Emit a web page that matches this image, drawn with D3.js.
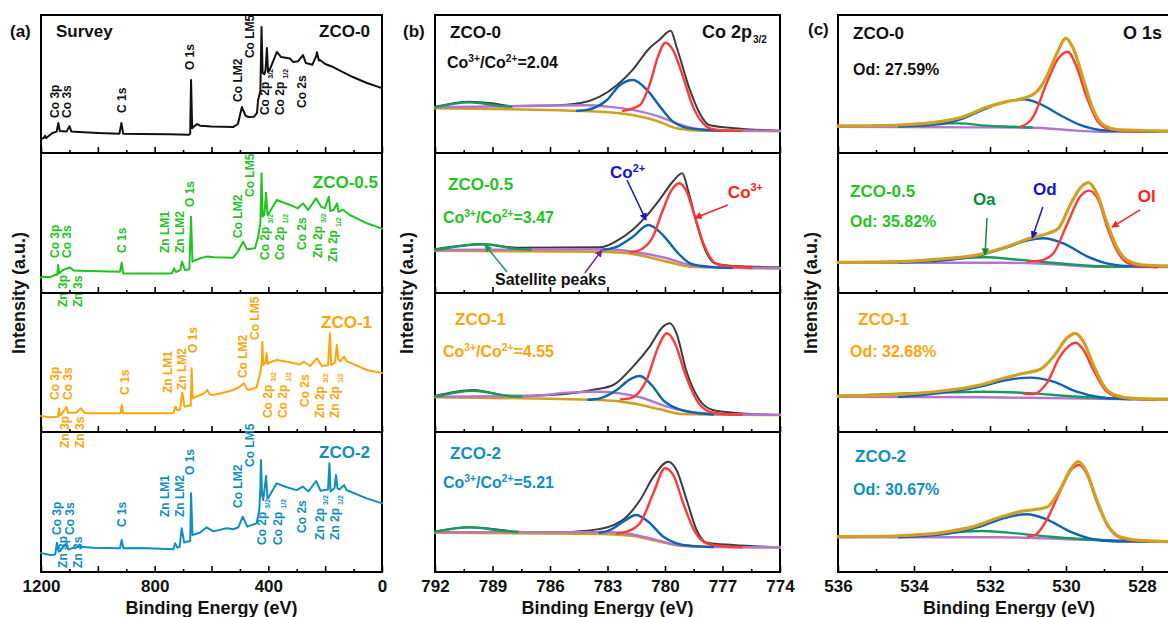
<!DOCTYPE html>
<html>
<head>
<meta charset="utf-8">
<script src="https://cdn.jsdelivr.net/npm/d3@7"></script>
<style>
  body { margin: 0; background: #fff; }
  svg { display: block; font-family: Arial, "Liberation Sans", sans-serif; font-weight: bold; }
</style>
</head>
<body>
<svg id="chart" width="1168" height="617"></svg>
<script>
// ---- sample names and colours ----
const sampleNames = ['ZCO-0', 'ZCO-0.5', 'ZCO-1', 'ZCO-2'];
const sampleColors = ['#111111', '#1fc41f', '#ffa50a', '#0e8fc2'];
const coRatios = ['2.04', '3.47', '4.55', '5.21'];
const odShares = ['27.59%', '35.82%', '32.68%', '30.67%'];

// ---- (a) survey spectra: [binding energy eV, intensity a.u.] ----
const survey0 = [[1200,10],[1190,10.9],[1186,12.5],[1182,10.8],[1160,14.5],[1145,15.5],[1139,21.7],[1134,16],[1110,15.5],[1100,19.5],[1093,15.5],[1050,15],[1000,14.5],[924,14],[917,21.7],[911,14],[850,13.8],[750,13.5],[680,13.2],[675,14],[672,52.9],[668,18],[660,19.5],[650,21],[640,19.8],[600,19.2],[524,18.8],[507,21],[493,33.3],[480,27],[470,26.1],[450,26.3],[440,29],[436,38.4],[428,45],[424,91.3],[420,58],[414,57],[410,60],[405,76],[401,58.7],[394,61],[380,68],[370,73.2],[355,69.5],[334,68.8],[324,68.5],[313,66],[295,66.5],[278,71],[268,65.2],[245,64],[232,70],[229,73],[222,67],[218,67.4],[200,64.5],[172,62.3],[113,56],[53,50.7],[0,47]];
const survey05 = [[1200,11],[1193,11.6],[1165,11.5],[1151,12.9],[1143,13],[1140,20],[1136,14],[1123,16.4],[1098,18.3],[1085,16],[1063,15.9],[922,15.2],[916,21.7],[911,14],[750,14],[738,14.2],[732,17.6],[725,15],[710,16.4],[704,22.4],[693,16.4],[678,17],[672,54.5],[667,22.4],[640,24.8],[616,26],[590,25.5],[524,25.2],[507,29.5],[489,36.6],[475,31.2],[447,31.9],[436,40.2],[428,50],[424,85.5],[420,54.5],[414,56],[408,71.6],[403,55.7],[395,58],[370,66.4],[345,64.5],[324,62.9],[296,60.5],[278,64],[260,59.3],[232,67.6],[215,61.7],[201,60.5],[187,68.8],[182,58.5],[170,59.5],[158,64],[153,58],[137,59.5],[113,55.7],[53,49.8],[0,46]];
const survey1 = [[1200,11.5],[1168,10.6],[1140,11],[1137,17],[1134,12],[1127,13],[1110,18.2],[1105,13.9],[1075,14],[1060,17],[1045,13.4],[920,13.4],[916,19.4],[911,13.4],[740,13.4],[734,14],[726,18.2],[720,15.8],[711,16],[703,28.3],[695,18.2],[690,18.5],[673,19],[670,45.8],[666,24.2],[640,26.6],[625,28],[616,30.2],[605,27],[595,26.6],[545,29],[524,30.2],[505,32],[486,35],[475,31],[470,30.2],[441,32.2],[429,42.2],[423,50],[421,65],[418,48.2],[410,50],[406,56.6],[402,49],[397,50],[370,51.8],[334,50.6],[289,48.5],[275,50.6],[253,47.5],[229,53],[212,47.5],[190,48],[183,71],[179,48.2],[165,50],[159,62.6],[154,52],[146,51],[134,54.2],[125,51],[53,44.6],[0,42.5]];
const survey2 = [[1200,13.5],[1194,13.3],[1168,12.1],[1150,12.5],[1144,20.9],[1138,14.5],[1133,15],[1110,20.5],[1104,16],[1092,16.9],[1063,18],[1016,17.4],[922,17],[916,22.9],[910,17],[852,17.2],[734,16.2],[728,20.5],[720,17.4],[712,18],[705,31.2],[696,21],[682,22],[675,22],[672,56.2],[667,26.4],[640,28.2],[617,31.9],[594,29],[547,31.2],[523,30.5],[505,32],[490,39.5],[474,32.4],[441,34.8],[432,44.3],[428,60],[426,80],[422,55],[418,51.4],[408,68.6],[403,52.5],[400,53],[371,63.3],[335,60.5],[300,58.5],[279,61],[259,57.5],[232,65],[216,58],[190,59],[185,77.6],[181,57.5],[167,60],[162,69.3],[157,60],[150,59],[133,62.1],[125,58.5],[119,58],[54,52.6],[0,49]];

// peak labels: [text, subscript, eV, intensity at the text start]
const survey0Labels = [['Co 3p','',1151,25.4],['Co 3s','',1108,25.4],['C 1s','',915,29],['O 1s','',676,60.1],['Co LM2','',507,37],['Co LM5','',465,68.8],['Co 2p','3/2',412,27.5],['Co 2p','1/2',359,27.5],['Co 2s','',282,32.6]];
const survey05Labels = [['Co 3p','',1151,25],['Co 3s','',1108,25],['Zn 3p','',1123,-10],['Zn 3s','',1070,-10],['C 1s','',915,28.6],['Zn LM1','',764,28.6],['Zn LM2','',711,28.6],['O 1s','',676,61.4],['Co LM2','',507,39.3],['Co LM5','',465,68.6],['Co 2p','3/2',412,23.6],['Co 2p','1/2',359,23.6],['Co 2s','',282,30.7],['Zn 2p','3/2',225,25],['Zn 2p','1/2',172,22.1]];
const survey1Labels = [['Co 3p','',1151,23],['Co 3s','',1105,23],['Zn 3p','',1116,-11.5],['Zn 3s','',1063,-11.5],['C 1s','',904,26.6],['Zn LM1','',753,28],['Zn LM2','',704,30.2],['O 1s','',665,56.8],['Co LM2','',489,38.8],['Co LM5','',447,66.2],['Co 2p','3/2',401,10],['Co 2p','1/2',348,10],['Co 2s','',271,18],['Zn 2p','3/2',218,10],['Zn 2p','1/2',165,10]];
const survey2Labels = [['Co 3p','',1144,26.4],['Co 3s','',1098,26.4],['Zn 3p','',1123,2.9],['Zn 3s','',1070,2.9],['C 1s','',915,32.1],['Zn LM1','',764,39.3],['Zn LM2','',711,39.3],['O 1s','',676,69.3],['Co LM2','',507,45.7],['Co LM5','',465,75],['Co 2p','3/2',422,19.3],['Co 2p','1/2',366,19.3],['Co 2s','',282,27.9],['Zn 2p','3/2',218,22.9],['Zn 2p','1/2',165,22.9]];

// ---- (b) Co 2p3/2: raw, Co3+, Co2+, satellite 1 (green), satellite 2 (purple), background ----
const co0Raw = [[792,33.3],[790.2,37.2],[789,36],[788.1,34.1],[786,34.4],[784.4,36.2],[783.4,40.8],[782.5,49.3],[781.7,60.1],[780.8,76.1],[780.3,81.9],[779.7,88.6],[779.4,77],[778.7,45.7],[778.2,29],[777.7,20.3],[776.5,18.1],[774,16.2]];
const co0Co3 = [[782.2,30.5],[781.31,34.8],[780.78,50.5],[780.37,69.8],[779.97,79.9],[779.58,74.6],[779.06,55.3],[778.54,33.6],[778.01,21.5],[777.65,17.9],[777,16.5],[776,16]];
const co0Co2 = [[784.6,30.5],[784.07,31.2],[783.03,38.4],[782.35,49.3],[781.67,52.9],[780.94,45.7],[780.26,33.6],[779.58,22.7],[779.06,19],[778.5,17.5],[777,16.1]];
const co0Sat1 = [[792,33.1],[790.2,36.7],[788.6,34.1],[788,33.5]];
const co0Sat2 = [[792,33.1],[786.9,34.1],[784.1,34.6],[783,33.6],[781.7,31.2],[780.3,26.3],[779.4,21.5],[778.2,17.2],[776.5,16.2],[774,15.9]];
const co0Bg = [[792,32.4],[783.4,29.9],[781.7,27.5],[780.3,22.7],[779.4,17.9],[778.2,16.2],[774,15.9]];

const co05Raw = [[792,31.2],[789.5,34.8],[787.7,32.4],[783.4,32.6],[782.5,37.4],[781.7,45],[781,54.5],[780.3,66.4],[779.6,79.5],[779.1,85.5],[778.8,73.6],[778.35,49.8],[777.9,30.7],[777.4,21.2],[776.45,19.3],[774,18.4]];
const co05Co3 = [[781.8,29],[781.31,30.7],[780.63,40.2],[780.11,59.3],[779.65,73.6],[779.26,78.4],[778.87,72.4],[778.44,54.5],[778,35.5],[777.48,22.4],[777.13,20],[776.5,19],[775.5,17.8]];
const co05Co2 = [[783.2,31],[782.52,33],[781.67,40.2],[780.87,48.6],[780.11,41.4],[779.39,29.5],[778.7,21.2],[778.18,19.5],[777.5,18.5],[776.5,17.8]];
const co05Sat1 = [[792,30.7],[789.5,34.8],[787.7,31.5],[787,31]];
const co05Sat2 = [[792,30.7],[783.4,31.2],[781.67,29.5],[779.9,24.8],[778.7,20],[777.3,18.4],[774,17.8]];
const co05Bg = [[792,30.2],[783.4,29.5],[781.67,27.9],[779.9,22.4],[778.7,18.8],[774,17.6]];

const co1Raw = [[792,25.9],[790,30.2],[788.1,26],[786,26.6],[783.6,30.7],[782.7,33.8],[781.67,47],[780.8,61.4],[780.1,75.8],[779.75,78.2],[779.4,71],[778.9,44.6],[778.2,23],[777.5,15.8],[776.45,13.9],[774,12.2]];
const co1Co3 = [[782.3,23.5],[781.83,24.2],[780.96,37.4],[780.35,61.4],[779.91,71],[779.48,63.8],[778.96,42.2],[778.35,23],[777.65,14.5],[777,13],[776,12.4]];
const co1Co2 = [[784,23.2],[783.39,24.2],[782.52,30.2],[781.83,37.9],[781.31,40.3],[780.7,33.8],[780.1,23],[779.39,17],[778.7,14.5],[777.5,12.6]];
const co1Sat1 = [[792,25.4],[790,29.7],[788.1,25.9],[787.5,25.5]];
const co1Sat2 = [[792,25.4],[786.9,25.9],[785.1,28.3],[783.4,29],[782.35,27.8],[781.3,25],[779.9,18.2],[779.06,15.3],[777.3,13],[774,12.3]];
const co1Bg = [[792,25],[783.4,23],[781.67,20.6],[780.26,16.3],[779.06,12.9],[774,12.2]];

const co2Raw = [[792,28.8],[790.2,31.9],[787.7,28.8],[786,28.1],[784.1,29.5],[782.9,32.4],[782,39.5],[781.3,51.4],[780.6,68.1],[779.83,78.8],[779.4,72.9],[778.87,51.4],[778.35,30],[777.83,20.9],[776.45,19.3],[774,17.6]];
const co2Co3 = [[782.5,27.5],[782,28.8],[781.31,34.8],[780.61,56.2],[780,74.1],[779.57,69.3],[779.05,49.1],[778.44,28.8],[777.83,20.5],[777,18.5],[776,17.7]];
const co2Co2 = [[783.4,28],[782.87,30],[782.18,35.9],[781.51,40.7],[780.87,35.9],[780.09,25.2],[779.39,20.5],[778.7,18.8],[777.5,17.8]];
const co2Sat1 = [[792,28.8],[790.2,31.9],[788.5,29.5],[787.7,28.6]];
const co2Sat2 = [[792,28.5],[784.1,28.5],[783,28.6],[782,27.5],[780.6,23.5],[779.4,19.5],[777.5,17.8],[774,17.6]];
const co2Bg = [[792,28.1],[783.4,27.1],[781.67,25.7],[780.26,21.7],[779.06,18.6],[774,17.6]];

// ---- (c) O 1s: envelope, Ol (lattice), Od (defect), Oa (adsorbed), background ----
const o0Env = [[536,19.6],[534.37,20.3],[533.32,22.7],[532.7,26.3],[532.09,33.1],[531.56,37.2],[531.12,39.6],[530.77,44.4],[530.51,55.3],[530.24,72.2],[530,83.1],[529.81,75.9],[529.54,52.9],[529.28,31.2],[529.02,20.3],[528.58,16.7],[527,15.8]];
const o0Ol = [[531.2,19],[530.86,26.3],[530.51,50.5],[530.2,68.6],[529.96,73.4],[529.72,62.5],[529.46,40.8],[529.19,23.9],[528.93,17.9],[528.6,16.5],[528,15.6]];
const o0Od = [[534.4,19.2],[533.3,21],[532.7,25.1],[532.09,32.4],[531.56,37.2],[531.12,38.9],[530.68,35.5],[530.16,27.5],[529.63,20.3],[529.11,16.7],[528.58,16],[527.6,15.5]];
const o0Oa = [[534.37,19.8],[533.32,21.5],[532.8,21.5],[532.09,19.8],[531.39,19],[530.9,18.5]];
const o0Bg = [[536,19],[532.6,18.6],[530.86,18.3],[529.98,16.7],[529.11,15.4],[527,15.4]];

const o05Env = [[536,21.9],[534.37,22.4],[533.32,24.3],[532.35,27.1],[531.56,33.1],[530.95,39.1],[530.47,42.6],[530.2,46.2],[529.89,62.9],[529.63,74.8],[529.41,78.8],[529.19,71.2],[528.93,50.9],[528.67,33.1],[528.4,23.6],[527.97,20],[527,19.2]];
const o05Ol = [[531,22.4],[530.68,23.1],[530.33,28.4],[529.98,48.6],[529.63,68.8],[529.39,73.1],[529.15,66.4],[528.89,45],[528.62,28.4],[528.36,21.2],[528.05,19.3],[527.6,18.6]];
const o05Od = [[534.4,21.8],[533.32,23.1],[532.35,26.4],[531.56,32.6],[531.03,37.4],[530.6,39.1],[530.07,35.5],[529.46,26.4],[528.93,21.2],[528.4,19.3],[527.6,18.6]];
const o05Oa = [[533.5,22.5],[532.79,24.8],[532.09,25.5],[531.39,24.1],[530.68,22.4],[529.98,20.7],[529.28,19.3],[528.4,18.7]];
const o05Bg = [[536,21.6],[531.74,21.6],[530.42,20.7],[529.28,18.8],[527,18.4]];

const o1Env = [[536,25.9],[534.37,27.1],[533.05,30.2],[532.26,33.8],[531.74,37.9],[531.21,41.7],[530.68,45.1],[530.33,54.2],[529.98,67.4],[529.76,71],[529.54,65],[529.28,48.2],[529.02,33.8],[528.71,26.6],[528.23,24.2],[527,23.5]];
const o1Ol = [[531.1,27.5],[530.86,27.3],[530.51,35],[530.16,54.2],[529.89,62.6],[529.74,64.2],[529.54,59],[529.28,44.6],[528.97,30.2],[528.67,25.4],[528.3,24],[527.6,23.3]];
const o1Od = [[534.4,25.3],[533.05,29],[532.26,32.6],[531.56,37.4],[530.95,39.1],[530.33,36.2],[529.72,29],[529.11,25],[528.6,24],[527.6,23.3]];
const o1Oa = [[536,25.9],[533.49,28.3],[532.18,29],[530.86,27.8],[529.98,25.9],[529.1,24.5],[528.3,23.6]];
const o1Bg = [[536,25.4],[532.2,25],[529.98,24.2],[527,23]];

const o2Env = [[536,25.2],[534.37,25.9],[533.23,28.3],[532.44,32.4],[531.74,39.1],[531.21,43.1],[530.51,46.2],[530.16,58.6],[529.89,72.9],[529.68,78.8],[529.46,71.6],[529.19,51.4],[528.93,34.8],[528.58,25.2],[527.97,22.4],[527,21.5]];
const o2Ol = [[531,25.5],[530.82,26.4],[530.51,37.1],[530.16,57.4],[529.85,73.4],[529.65,76.4],[529.46,70.5],[529.19,50.2],[528.89,32.4],[528.58,24.5],[528.2,22.5],[527.6,21.8]];
const o2Od = [[534.4,24.8],[533.05,27.6],[532.26,32.4],[531.65,38.4],[531.03,41.2],[530.51,37.6],[529.89,28.8],[529.28,23.4],[528.67,22],[527.6,21.8]];
const o2Oa = [[534.37,25.5],[533.05,28.1],[532.18,29.3],[531.3,27.6],[530.42,25.2],[529.54,23.4],[528.67,22],[527.8,21.8]];
const o2Bg = [[536,24.8],[531.74,24.8],[529.98,23.4],[527,21.6]];

// arrow annotations in data units: [label, color, textEv, textI, fromEv, fromI, toEv, toI]
const coNotes = [['Co2+','#1414d6',782.87,82.1,781.98,80.7,780.99,52.1],['Co3+','#ff2020',776.72,67.9,776.72,62.9,778.44,53.6]];
const satArrows = [['#1a9a5a',788.24,15,789.39,34.3],['#6a2aa0',784.18,14.3,783.29,30.7]];
const oNotes = [['Oa','#0a8a40',532.45,62.9,532.08,53.6,532.13,27.1],['Od','#1414d6',530.87,70,530.61,61.4,530.89,39.3],['Ol','#ff2020',528.11,65,528.05,59.3,528.79,47.1]];

// ---- layout ----
const svg = d3.select('#chart');
const rowEdges = [15, 153, 293, 432, 572];
const xA = d3.scaleLinear().domain([1200, 0]).range([41, 382]);
const xB = d3.scaleLinear().domain([792, 774]).range([435, 780]);
const xC = d3.scaleLinear().domain([536, 527]).range([838, 1180]);
const yRow = i => d3.scaleLinear().domain([0, 100]).range([rowEdges[i + 1], rowEdges[i]]);

const defs = svg.append('defs');
function arrowHead(color) {
  const id = 'ah' + color.replace('#', '');
  if (defs.select('#' + id).empty()) {
    defs.append('marker').attr('id', id).attr('viewBox', '0 0 10 10').attr('refX', 9).attr('refY', 5)
      .attr('markerWidth', 5).attr('markerHeight', 5).attr('orient', 'auto')
      .append('path').attr('d', 'M0,0 L10,5 L0,10 z').attr('fill', color);
  }
  return 'url(#' + id + ')';
}

function frame(x, i, ticks, isMajor, labels) {
  const y1 = rowEdges[i + 1];
  const g = svg.append('g');
  g.append('g').attr('transform', `translate(0,${y1})`)
    .call(d3.axisTop(x).tickValues(ticks.filter(d => !isMajor(d))).tickSize(3).tickFormat(''))
    .call(a => a.select('.domain').remove());
  g.append('g').attr('transform', `translate(0,${y1})`)
    .call(d3.axisTop(x).tickValues(ticks.filter(isMajor)).tickSize(6).tickFormat(''))
    .call(a => a.select('.domain').remove());
  g.selectAll('.tick line').attr('stroke', '#000').attr('stroke-width', 1.6);
  g.append('rect').attr('x', x.range()[0]).attr('y', rowEdges[i])
    .attr('width', x.range()[1] - x.range()[0]).attr('height', y1 - rowEdges[i])
    .attr('fill', 'none').attr('stroke', '#000').attr('stroke-width', 2);
  if (labels) {
    const ax = svg.append('g').attr('transform', `translate(0,${y1})`)
      .call(d3.axisBottom(x).tickValues(labels).tickSize(0).tickPadding(8).tickFormat(d3.format('d')));
    ax.select('.domain').remove();
    ax.selectAll('text').attr('font-size', 17).attr('font-weight', 'bold')
      .attr('font-family', 'Arial, "Liberation Sans", sans-serif').attr('fill', '#111');
  }
}

function curve(x, y, data, color, width, kind) {
  svg.append('path').datum(data)
    .attr('d', d3.line().x(d => x(d[0])).y(d => y(d[1])).curve(kind || d3.curveMonotoneX))
    .attr('fill', 'none').attr('stroke', color).attr('stroke-width', width)
    .attr('stroke-linejoin', 'round').attr('stroke-linecap', 'round');
}

function txt(x, y, s, size, color, anchor) {
  return svg.append('text').attr('x', x).attr('y', y).attr('font-size', size)
    .attr('fill', color).attr('text-anchor', anchor || 'start').text(s);
}

function superText(x, y, size, color, parts) {
  const t = svg.append('text').attr('x', x).attr('y', y).attr('font-size', size).attr('fill', color);
  parts.forEach(p => {
    if (p[1]) t.append('tspan').attr('font-size', size * 0.64).attr('dy', -size * 0.38).text(p[0]);
    else t.append('tspan').attr('dy', p[2] ? size * 0.38 : 0).text(p[0]);
  });
  return t;
}

// ---- (a) survey ----
const surveys = [survey0, survey05, survey1, survey2];
const surveyLabels = [survey0Labels, survey05Labels, survey1Labels, survey2Labels];
const nameBase = [37, 188, 328, 458];
const nameRight = [370, 378, 372, 370];
surveys.forEach((s, i) => {
  const y = yRow(i);
  frame(xA, i, d3.range(0, 1201, 100), d => d % 200 === 0, i === 3 ? [1200, 800, 400, 0] : null);
  curve(xA, y, s, sampleColors[i], 2, d3.curveLinear);
  surveyLabels[i].forEach(l => {
    const t = svg.append('text')
      .attr('transform', `translate(${xA(l[2])},${y(l[3])}) rotate(-90)`)
      .attr('dy', '0.36em').attr('font-size', 12).attr('fill', sampleColors[i]).text(l[0]);
    if (l[1]) t.append('tspan').attr('font-size', 7).attr('dx', 3).attr('dy', 4).text(l[1]);
  });
  txt(nameRight[i], nameBase[i], sampleNames[i], 17, sampleColors[i], 'end');
});
txt(56, 37, 'Survey', 17, '#111');

// ---- (b) Co 2p ----
const coSets = [
  [co0Raw, co0Co3, co0Co2, co0Sat1, co0Sat2, co0Bg],
  [co05Raw, co05Co3, co05Co2, co05Sat1, co05Sat2, co05Bg],
  [co1Raw, co1Co3, co1Co2, co1Sat1, co1Sat2, co1Bg],
  [co2Raw, co2Co3, co2Co2, co2Sat1, co2Sat2, co2Bg]
];
const bName = [[450, 38], [448, 190], [455, 325], [450, 459]];
const bRatio = [[447, 68], [443, 223], [443, 357], [443, 488]];
coSets.forEach((set, i) => {
  const y = yRow(i);
  frame(xB, i, d3.range(774, 792.01, 1.5), d => (d - 774) % 3 === 0, i === 3 ? [792, 789, 786, 783, 780, 777, 774] : null);
  curve(xB, y, set[0], '#3c3c3c', 2);
  curve(xB, y, set[5], '#d1a020', 2.6);
  curve(xB, y, set[4], '#b475d2', 2.4);
  curve(xB, y, set[3], '#1a9a5a', 2.4);
  curve(xB, y, set[2], '#0a64b4', 2.4);
  curve(xB, y, set[1], '#ff3838', 2.4);
  const c = i === 0 ? '#111' : sampleColors[i];
  txt(bName[i][0], bName[i][1], sampleNames[i], 17, c);
  superText(bRatio[i][0], bRatio[i][1], 16, c,
    [['Co'], ['3+', true], ['/Co', false, true], ['2+', true], ['=' + coRatios[i], false, true]]);
});
const tCo = txt(702, 38, 'Co 2p', 18, '#111');
tCo.append('tspan').attr('font-size', 10).attr('dy', 5).attr('dx', 1).text('3/2');
{
  const y = yRow(1);
  coNotes.forEach(n => {
    superText(xB(n[2]), y(n[3]), 17, n[1], [[n[0].slice(0, 2)], [n[0].slice(2), true]]);
    svg.append('line').attr('x1', xB(n[4])).attr('y1', y(n[5])).attr('x2', xB(n[6])).attr('y2', y(n[7]))
      .attr('stroke', n[1]).attr('stroke-width', 1.5).attr('marker-end', arrowHead(n[1]));
  });
  satArrows.forEach(a => {
    svg.append('line').attr('x1', xB(a[1])).attr('y1', y(a[2])).attr('x2', xB(a[3])).attr('y2', y(a[4]))
      .attr('stroke', a[0]).attr('stroke-width', 1.5).attr('marker-end', arrowHead(a[0]));
  });
  txt(xB(788.87), y(5.7), 'Satellite peaks', 16, '#111');
}

// ---- (c) O 1s ----
const oSets = [
  [o0Env, o0Ol, o0Od, o0Oa, o0Bg],
  [o05Env, o05Ol, o05Od, o05Oa, o05Bg],
  [o1Env, o1Ol, o1Od, o1Oa, o1Bg],
  [o2Env, o2Ol, o2Od, o2Oa, o2Bg]
];
const cName = [[853, 39], [850, 197], [858, 325], [855, 462]];
const cOd = [[853, 75], [850, 227], [850, 357], [853, 495]];
oSets.forEach((set, i) => {
  const y = yRow(i);
  frame(xC, i, d3.range(527, 536.01, 1), d => d % 2 === 0, i === 3 ? [536, 534, 532, 530, 528] : null);
  curve(xC, y, set[4], '#b475d2', 2.4);
  curve(xC, y, set[3], '#1a9a5a', 2.4);
  curve(xC, y, set[2], '#0a64b4', 2.4);
  curve(xC, y, set[1], '#ff3838', 2.4);
  curve(xC, y, set[0], '#d1a020', 3.2);
  const c = i === 0 ? '#111' : sampleColors[i];
  txt(cName[i][0], cName[i][1], sampleNames[i], 17, c);
  txt(cOd[i][0], cOd[i][1], 'Od: ' + odShares[i], 16, c);
});
txt(1123, 39, 'O 1s', 18, '#111');
{
  const y = yRow(1);
  oNotes.forEach(n => {
    txt(xC(n[2]), y(n[3]), n[0], 17, n[1]);
    svg.append('line').attr('x1', xC(n[4])).attr('y1', y(n[5])).attr('x2', xC(n[6])).attr('y2', y(n[7]))
      .attr('stroke', n[1]).attr('stroke-width', 1.5).attr('marker-end', arrowHead(n[1]));
  });
}

// ---- panel letters and axis titles ----
[['(a)', 10, 37], ['(b)', 403, 37], ['(c)', 808, 35]].forEach(p => txt(p[1], p[2], p[0], 17, '#111'));
[[xA, 25], [xB, 413], [xC, 817]].forEach(([x, bx]) => {
  const mid = (x.range()[0] + Math.min(x.range()[1], 1180)) / 2;
  txt(mid, 614, 'Binding Energy (eV)', 18, '#111', 'middle');
  svg.append('text').attr('transform', `translate(${bx},293) rotate(-90)`)
    .attr('text-anchor', 'middle').attr('font-size', 18).attr('fill', '#111').text('Intensity (a.u.)');
});
</script>
</body>
</html>
